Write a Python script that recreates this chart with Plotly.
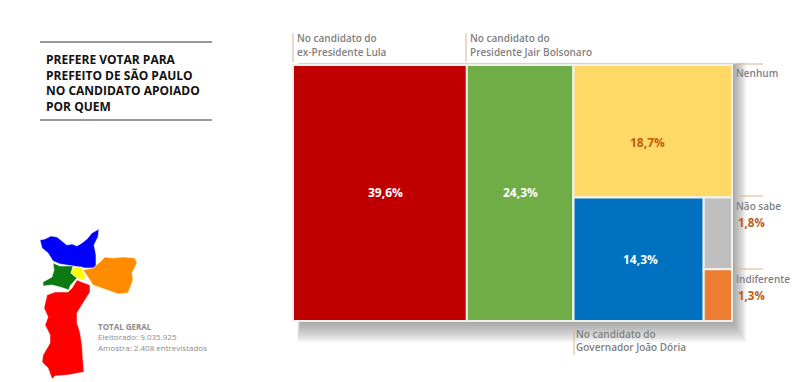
import plotly.graph_objects as go

W, H = 802, 382

# Data
ids = ["root", "lula", "bolsonaro", "rest", "nenhum", "sub", "doria", "minor", "naosabe", "indif"]
parents = ["", "root", "root", "root", "rest", "rest", "sub", "sub", "minor", "minor"]
values = [0, 39.6, 24.3, 0, 18.7, 0, 14.3, 0, 1.8, 1.3]
colors = ["#FFFFFF", "#C00000", "#70AD47", "#FFFFFF", "#FFD966", "#FFFFFF", "#0070C0", "#FFFFFF", "#BFBFBF", "#ED7D31"]

value_labels = ["39,6%", "24,3%", "18,7%", "14,3%"]
value_label_colors = ["#FFFFFF", "#FFFFFF", "#C55A11", "#FFFFFF"]
value_label_xy = [(385, 192), (520, 192), (647, 142), (640, 259)]

title_lines = ["PREFERE VOTAR PARA", "PREFEITO DE SÃO PAULO", "NO CANDIDATO APOIADO", "POR QUEM"]
total_lines = ["<b>TOTAL GERAL</b>", "Eleitorado: 9.035.925", "Amostra: 2.408 entrevistados"]

# Decorative map outlines, in pixels
map_regions = {
    "#0000FF": [(40,240),(45,239),(51,236),(57,237),(62,241),(67,245),(72,244),(77,246),(82,243),(87,239),(92,233),(99,229),(98,237),(94,245),(96,255),(96,268),(85,268),(73,266),(60,264),(53,261),(48,253),(42,248)],
    "#0B7A12": [(53,263),(60,266),(73,266),(71,273),(77,278),(70,286),(69,290),(60,287),(52,285),(43,286),(43,282),(52,277),(54,270)],
    "#FFFF00": [(74,267),(82,267),(83,272),(86,277),(82,280),(77,278),(71,273)],
    "#FF8C00": [(83,270),(93,268),(100,262),(105,257),(113,258),(123,257),(135,258),(137,263),(132,273),(133,280),(128,293),(118,294),(107,290),(93,285),(88,277)],
    "#FF0000": [(72,288),(77,280),(82,282),(90,285),(90,292),(85,300),(77,313),(77,323),(80,332),(82,345),(83,360),(84,372),(68,375),(55,376),(52,379),(48,368),(42,362),(43,355),(50,343),(50,335),(45,325),(48,317),(44,308),(47,295),(55,292),(68,292)],
}

X0, X1, Y0, Y1 = 293, 732, 65, 321


def px(x):
    return x / W


def py(y):
    return 1 - y / H


fig = go.Figure(go.Treemap(
    ids=ids, labels=ids, parents=parents, values=values,
    branchvalues="remainder", sort=False,
    textinfo="none",
    marker=dict(colors=colors, line=dict(color="#EEF2EA", width=2), pad=dict(t=0, l=0, r=0, b=0), depthfade=False),
    tiling=dict(packing="slice-dice", pad=0),
    pathbar=dict(visible=False),
    domain=dict(x=[px(X0), px(X1)], y=[py(Y1), py(Y0)]),
    hoverinfo="skip",
))

shapes = []


def rule(x0, y0, x1, y1, color="#D9B48F", width=1):
    shapes.append(dict(type="line", xref="paper", yref="paper", x0=px(x0), y0=py(y0), x1=px(x1), y1=py(y1),
                       line=dict(color=color, width=width)))


# Soft drop shadow
for i in range(12, 0, -1):
    shapes.append(dict(type="rect", xref="paper", yref="paper", layer="below",
                       x0=px(X0 + 8 - i * 0.3), x1=px(X1 + i * 1.2), y0=py(Y1 + i * 1.8), y1=py(Y0 - i * 0.2),
                       fillcolor="rgba(70,70,70,0.05)", line=dict(width=0)))

# Title rules
rule(40, 42, 212, 42, "#333333", 1)
rule(40, 120, 212, 120, "#333333", 1)

# Callout rules
rule(293, 33, 293, 62)
rule(466, 33, 466, 62)
rule(574, 328, 574, 355)
rule(736, 64, 763, 64)
rule(736, 196, 763, 196)
rule(736, 269, 763, 269)

# Map
for color, pts in map_regions.items():
    path = "M" + " L".join(f"{px(a):.5f},{py(b):.5f}" for a, b in pts) + " Z"
    shapes.append(dict(type="path", xref="paper", yref="paper", path=path, fillcolor=color,
                       line=dict(color="#FFFFFF", width=0.5)))

annotations = []


def label(x, y, text, size=10, color="#7F7F7F", weight="normal", anchor="left"):
    annotations.append(dict(xref="paper", yref="paper", x=px(x), y=py(y), text=text, showarrow=False,
                            xanchor=anchor, yanchor="middle", align="left",
                            font=dict(family="Open Sans", size=size, color=color, weight=weight)))


for text, color, (x, y) in zip(value_labels, value_label_colors, value_label_xy):
    label(x, y, text, 12, color, 700, anchor="center")

label(44, 83.5, "<br>".join(title_lines), size=12, color="#111111", weight=700)

label(295, 38, "No candidato do", 10, weight=600)
label(295, 52, "ex-Presidente Lula", 10, weight=600)
label(468, 38, "No candidato do", 10, weight=600)
label(468, 52, "Presidente Jair Bolsonaro", 10, weight=600)
label(574, 334, "No candidato do", 10, weight=600)
label(574, 347, "Governador João Dória", 10, weight=600)
label(734, 73, "Nenhum", 10, weight=600)
label(734, 206, "Não sabe", 10, weight=600)
label(736, 222, "1,8%", 11.5, "#C55A11", 700)
label(734, 279, "Indiferente", 10, weight=600)
label(736, 295, "1,3%", 11.5, "#C55A11", 700)

label(96, 337, "<br>".join(total_lines), 8, "#8C8C8C")

fig.update_layout(width=W, height=H, autosize=False, margin=dict(l=0, r=0, t=0, b=0),
                  paper_bgcolor="#FFFFFF", plot_bgcolor="#FFFFFF", showlegend=False,
                  shapes=shapes, annotations=annotations)
fig.write_html("out.html", config=dict(displayModeBar=False),
               post_script="document.body.style.margin='0';document.documentElement.style.overflow='hidden';")
